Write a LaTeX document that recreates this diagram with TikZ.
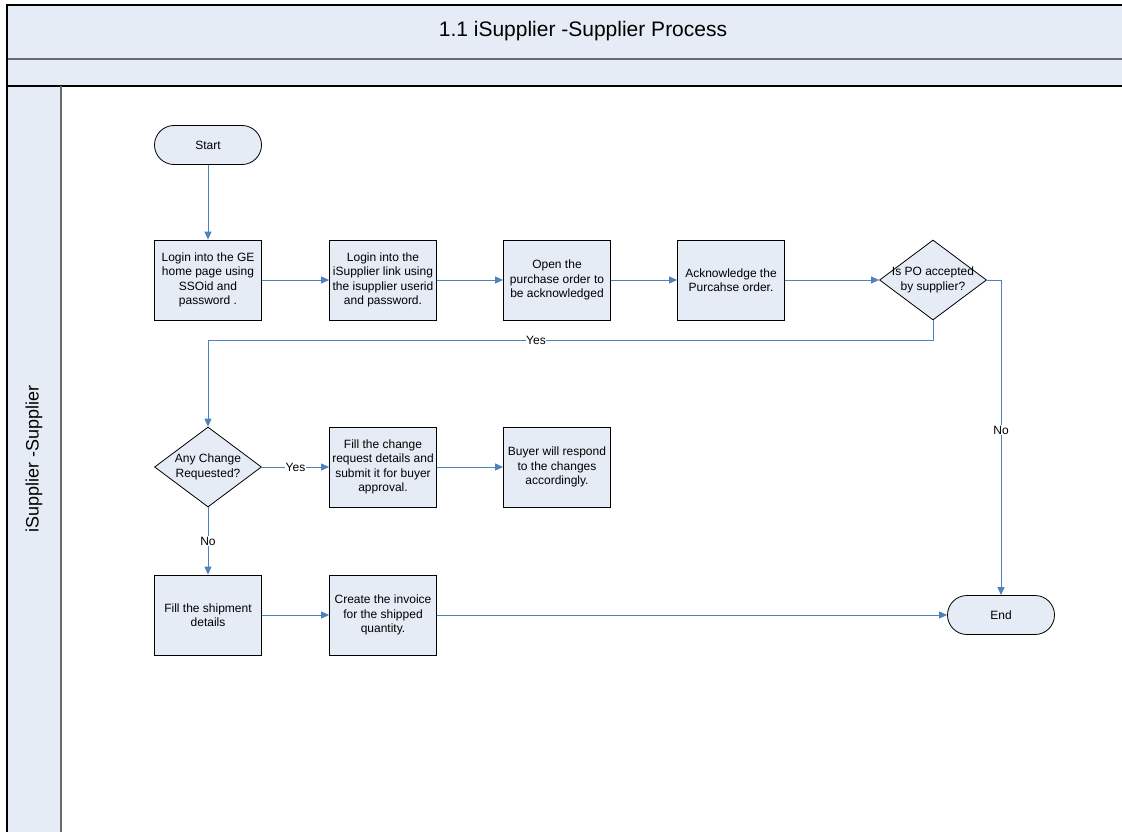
\documentclass[tikz,border=0pt]{standalone}
\usepackage{fontspec}
\setmainfont{Liberation Sans}
\usepackage{tikz}
\usetikzlibrary{shapes.geometric,arrows.meta,positioning}
\definecolor{boxfill}{RGB}{230,236,246}
\definecolor{linkblue}{RGB}{79,129,189}
\definecolor{edgegray}{RGB}{105,105,110}
\newcommand{\boxfont}{\fontsize{12}{14.5}\selectfont}
\newcommand{\lw}{0.8pt}
\tikzset{
  procbox/.style={draw=black, fill=boxfill, line width=\lw, minimum width=107pt,
    minimum height=80pt, inner sep=0pt, align=center, font=\boxfont},
  termbox/.style={procbox, rounded corners=19.5pt, minimum height=39pt},
  decbox/.style={procbox, diamond},
  flowline/.style={draw=linkblue, line width=0.9pt, -{Triangle[length=8pt,width=7pt]}},
  plainline/.style={draw=linkblue, line width=0.9pt},
  flowlabel/.style={fill=white, inner sep=0.6pt, font=\boxfont},
}

\begin{document}
\begin{tikzpicture}[x=1pt, y=-1pt]
\useasboundingbox (0,0) rectangle (1122,832);
%lane
\fill[boxfill] (7,5) rectangle (1140,86);
\fill[boxfill] (7,86) rectangle (61,850);
\draw[edgegray, line width=1.2pt] (7,59) -- (1140,59);
\draw[black, line width=1.2pt] (7,86) -- (1140,86);
\draw[edgegray, line width=2pt] (61,86) -- (61,850);
\draw[black, line width=1.2pt] (7,850) -- (7,5) -- (1140,5);
\node (0) at (583,31) [font=\fontsize{21}{25}\selectfont] {1.1 iSupplier -Supplier Process};
\node (00) at (34,459) [rotate=90, font=\fontsize{18}{22}\selectfont] {iSupplier -Supplier};
%row 1
\node[termbox] (1) at (208,145) {Start};
\node[procbox] (2) at (208,280) {Login into the GE\\home page using\\SSOid and\\password .};
\node[procbox] (3) at (383,280) {Login into the\\iSupplier link using\\the isupplier userid\\and password.};
\node[procbox] (4) at (557,280) {Open the\\purchase order to\\be acknowledged};
\node[procbox] (5) at (731,280) {Acknowledge the\\Purcahse order.};
\node[decbox] (6) at (933,280) [label={[font=\boxfont, align=center]center:{Is PO accepted\\by supplier?}}] {};
%row 2
\node[decbox] (7) at (208,467) [label={[font=\boxfont, align=center]center:{Any Change\\Requested?}}] {};
\node[procbox] (8) at (383,467) {Fill the change\\request details and\\submit it for buyer\\approval.};
\node[procbox] (9) at (557,467) {Buyer will respond\\to the changes\\accordingly.};
%row 3
\node[procbox] (10) at (208,615) {Fill the shipment\\details};
\node[procbox] (11) at (383,615) {Create the invoice\\for the shipped\\quantity.};
\node[termbox] (12) at (1001,615) {End};
\coordinate (yes) at (536,340);
\coordinate (no) at (1001,430);
%links
\draw[flowline] (1) -- (2);
\draw[flowline] (2) -- (3);
\draw[flowline] (3) -- (4);
\draw[flowline] (4) -- (5);
\draw[flowline] (5) -- (6);
\draw[plainline] (6.south) |- (yes);
\draw[flowline] (yes) -| (7.north);
\draw[plainline] (6.east) -| (no);
\draw[flowline] (no) -- (12.north);
\draw[flowline] (7) -- node[flowlabel] {Yes} (8);
\draw[flowline] (8) -- (9);
\draw[flowline] (7) -- node[flowlabel] {No} (10);
\draw[flowline] (10) -- (11);
\draw[flowline] (11) -- (12);
\node[flowlabel] at (yes) {Yes};
\node[flowlabel] at (no) {No};
\end{tikzpicture}
\end{document}
